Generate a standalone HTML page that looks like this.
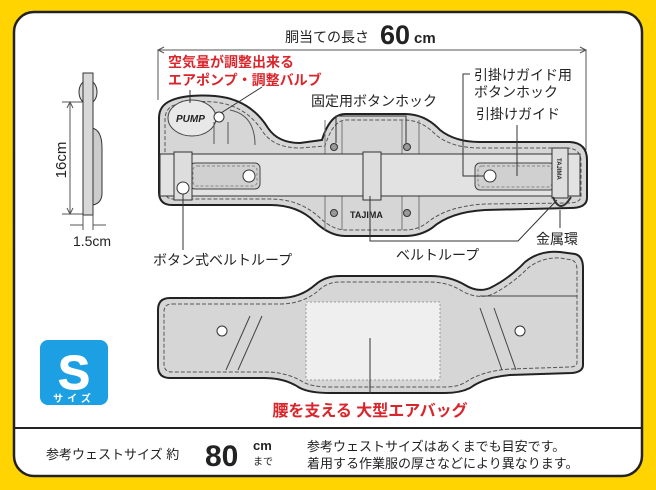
<!DOCTYPE html><html><head><meta charset="utf-8"><style>
body{margin:0;width:656px;height:490px;background:#ffd400;overflow:hidden}
svg{display:block}
text{font-family:"Liberation Sans","Noto Sans CJK JP",sans-serif;fill:#222}
</style></head><body>
<svg width="656" height="490" viewBox="0 0 656 490">
<rect x="14" y="12" width="628" height="464" rx="20" fill="#fff" stroke="#222" stroke-width="2.5"/>
<line x1="15" y1="428" x2="641" y2="428" stroke="#222" stroke-width="2"/>

<!-- side view -->
<line x1="70" y1="102" x2="70" y2="214" stroke="#555"/>
<line x1="62" y1="102" x2="84" y2="102" stroke="#555"/><line x1="62" y1="214" x2="84" y2="214" stroke="#555"/>
<path d="M67,108 L70,102 L73,108 M67,208 L70,214 L73,208" fill="none" stroke="#555"/>
<ellipse cx="88" cy="92" rx="9" ry="12" fill="#ddd" stroke="#333"/>
<path d="M92,128 q10,2 10,20 v45 q0,10 -9,12" fill="#ccc" stroke="#333"/>
<rect x="83" y="73" width="10" height="142" fill="#d8d8d8" stroke="#333"/>
<line x1="83" y1="215" x2="83" y2="230" stroke="#555"/><line x1="93" y1="215" x2="93" y2="230" stroke="#555"/>
<path d="M70,225 h13 M106,225 h-13" stroke="#555"/>
<text x="66" y="160" font-size="15" transform="rotate(-90 66 160)" text-anchor="middle">16cm</text>
<text x="92" y="246" font-size="14" text-anchor="middle">1.5cm</text>

<!-- top dimension -->
<line x1="158" y1="50" x2="586" y2="50" stroke="#555"/>
<path d="M164,47 L158,50 L164,53 M580,47 L586,50 L580,53" fill="none" stroke="#555"/>
<line x1="158" y1="50" x2="158" y2="100" stroke="#555"/><line x1="586" y1="50" x2="586" y2="150" stroke="#555"/>
<text x="285" y="42" font-size="14">胴当ての長さ</text>
<text x="380" y="44" font-size="27" font-weight="bold">60</text>
<text x="414" y="43" font-size="15" font-weight="bold">cm</text>

<!-- top belt -->
<path d="M170,101 Q185,94 215,96 Q250,99 268,128 Q278,143 300,143 L322,140 Q330,114 345,114 L405,114 Q425,114 440,130 Q455,142 480,142 L570,142 Q587,143 587,160 L587,198 Q587,208 570,208 L485,210 Q450,212 432,228 Q420,236 405,236 L345,236 Q330,236 315,222 Q298,205 270,205 L172,205 Q159,205 159,192 L159,118 Q159,106 170,101 Z" fill="#d6d6d6" stroke="#222" stroke-width="2"/>
<path d="M172,106 Q186,100 214,102 Q246,105 263,132 Q274,148 300,148 L325,146 Q333,120 346,120 L404,120 Q422,120 436,135 Q452,148 480,148 L568,148 Q581,149 581,162 L581,196 Q581,203 568,203 L485,204 Q448,206 428,222 Q418,230 405,230 L346,230 Q333,230 320,218 Q300,199 270,199 L173,199 Q165,199 165,190 L165,120 Q165,110 172,106 Z" fill="none" stroke="#555" stroke-dasharray="4 2"/>
<ellipse cx="192" cy="118" rx="24" ry="18" fill="#e8e8e8" stroke="#444"/>
<text x="176" y="122" font-size="10" font-weight="bold" font-style="italic">PUMP</text>
<circle cx="219" cy="117" r="5" fill="#fff" stroke="#333"/>
<path d="M214,122 v22 M228,122 v22 M230,110 q25,5 25,35" fill="none" stroke="#555"/>
<path d="M325,120 V230 M342,120 V230 M402,120 V230 M419,120 V230" stroke="#777"/>
<rect x="160" y="154" width="420" height="42" fill="#e2e2e2" stroke="#333"/>
<rect x="190" y="163" width="70" height="26" rx="5" fill="#d0d0d0" stroke="#444"/>
<rect x="193" y="166" width="64" height="20" rx="4" fill="none" stroke="#888" stroke-dasharray="3 2"/>
<circle cx="249" cy="176" r="6" fill="#fff" stroke="#333"/>
<rect x="475" y="163" width="80" height="27" rx="5" fill="#d0d0d0" stroke="#444"/>
<rect x="478" y="166" width="74" height="21" rx="4" fill="none" stroke="#888" stroke-dasharray="3 2"/>
<circle cx="490" cy="176" r="6" fill="#fff" stroke="#333"/>
<rect x="174" y="152" width="18" height="48" fill="#ddd" stroke="#333"/>
<circle cx="183" cy="188" r="6" fill="#fff" stroke="#333"/>
<rect x="363" y="152" width="18" height="48" fill="#ddd" stroke="#333"/>
<rect x="552" y="148" width="16" height="50" fill="#ddd" stroke="#333"/>
<text x="557" y="158" font-size="6" font-weight="bold" transform="rotate(90 557 158)">TAJIMA</text>
<path d="M553,197 q7,18 18,0" fill="none" stroke="#333" stroke-width="2"/>
<circle cx="334" cy="147" r="3.5" fill="#999" stroke="#333"/><circle cx="407" cy="147" r="3.5" fill="#999" stroke="#333"/>
<circle cx="334" cy="213" r="3.5" fill="#999" stroke="#333"/><circle cx="407" cy="213" r="3.5" fill="#999" stroke="#333"/>
<text x="350" y="218" font-size="9" font-weight="bold">TAJIMA</text>

<!-- top labels -->
<text x="168" y="67" font-size="14" font-weight="bold" style="fill:#d9262c">空気量が調整出来る</text>
<text x="168" y="85" font-size="14" font-weight="bold" style="fill:#d9262c">エアポンプ・調整バルブ</text>
<line x1="190" y1="90" x2="190" y2="103" stroke="#333"/><line x1="221" y1="113" x2="262" y2="87" stroke="#333"/>
<text x="311" y="106" font-size="14">固定用ボタンホック</text>
<path d="M336,143 V116 H406 V143" fill="none" stroke="#333"/>
<text x="474" y="80" font-size="14">引掛けガイド用</text>
<text x="474" y="97" font-size="14">ボタンホック</text>
<path d="M470,74 H463 V176 H484" fill="none" stroke="#333"/>
<text x="476" y="119" font-size="14">引掛けガイド</text>
<line x1="517" y1="125" x2="517" y2="176" stroke="#333"/>
<line x1="183" y1="194" x2="183" y2="250" stroke="#333"/>
<text x="153" y="265" font-size="14">ボタン式ベルトループ</text>
<path d="M370,196 V241 H518 L557,200" fill="none" stroke="#333"/>
<text x="396" y="260" font-size="14">ベルトループ</text>
<line x1="560" y1="210" x2="560" y2="228" stroke="#333"/>
<text x="536" y="244" font-size="14">金属環</text>

<!-- bottom belt -->
<path d="M170,298 L280,298 Q300,298 315,285 Q325,276 340,276 L430,276 Q450,276 465,285 Q478,293 490,288 Q510,278 525,262 Q540,250 560,252 L575,254 Q583,256 583,268 L583,365 Q583,372 572,373 L510,375 Q485,377 470,388 Q460,393 445,393 L330,393 Q310,393 300,388 Q285,378 265,378 L170,378 Q158,378 158,366 L158,310 Q158,298 170,298 Z" fill="#d6d6d6" stroke="#222" stroke-width="2"/>
<path d="M172,304 L280,304 Q302,304 318,291 Q327,282 340,282 L430,282 Q448,282 462,291 Q478,300 493,294 Q512,284 528,268 Q542,257 560,258 L572,260 Q577,262 577,270 L577,362 Q577,367 570,367 L510,369 Q482,371 466,382 Q458,387 445,387 L330,387 Q312,387 303,382 Q287,372 265,372 L172,372 Q164,372 164,364 L164,312 Q164,304 172,304 Z" fill="none" stroke="#555" stroke-dasharray="4 2"/>
<path d="M250,316 L226,370 M262,316 L238,370 M480,308 L502,370 M494,308 L516,370 M480,296 L577,296" stroke="#444" fill="none"/>
<rect x="306" y="302" width="134" height="78" fill="#efefef" stroke="#999" stroke-dasharray="2 2"/>
<circle cx="222" cy="331" r="5" fill="#fff" stroke="#333"/><circle cx="520" cy="331" r="5" fill="#fff" stroke="#333"/>
<line x1="370" y1="338" x2="370" y2="394" stroke="#333"/>
<text x="370" y="416" font-size="16" font-weight="bold" text-anchor="middle" style="fill:#d9262c">腰を支える 大型エアバッグ</text>

<!-- S badge -->
<rect x="40" y="340" width="68" height="65" rx="8" fill="#1c9fe3"/>
<text x="74" y="389" font-size="48" font-weight="bold" text-anchor="middle" style="fill:#fff;stroke:#fff;stroke-width:1">S</text>
<text x="74" y="402" font-size="10" font-weight="bold" text-anchor="middle" letter-spacing="4" style="fill:#fff">サイズ</text>

<!-- bottom text -->
<text x="46" y="459" font-size="13">参考ウェストサイズ 約</text>
<text x="205" y="466" font-size="30" font-weight="bold">80</text>
<text x="253" y="450" font-size="13" font-weight="bold">cm</text>
<text x="253" y="465" font-size="10">まで</text>
<text x="307" y="451" font-size="13">参考ウェストサイズはあくまでも目安です。</text>
<text x="307" y="468" font-size="13">着用する作業服の厚さなどにより異なります。</text>
</svg></body></html>
